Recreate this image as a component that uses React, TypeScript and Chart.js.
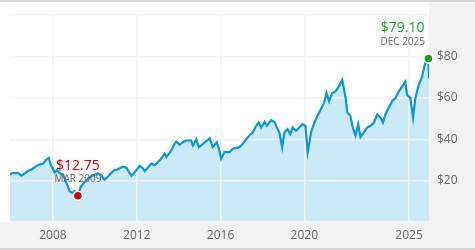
import React, { useEffect, useRef } from 'react';
import { Chart, registerables } from 'chart.js';

// Decimal years of each observation
const years = [
  2005.95, 2006.14, 2006.33, 2006.49, 2006.62, 2006.81, 2007.0, 2007.14, 2007.29, 2007.52,
  2007.67, 2007.8, 2007.9, 2008.08, 2008.19, 2008.32, 2008.48, 2008.62, 2008.8, 2008.95,
  2009.03, 2009.19, 2009.33, 2009.48, 2009.67, 2009.81, 2009.99, 2010.14, 2010.29, 2010.46,
  2010.62, 2010.76, 2010.94, 2011.03, 2011.19, 2011.33, 2011.51, 2011.67, 2011.75, 2011.9,
  2012.14, 2012.3, 2012.38, 2012.7, 2012.86, 2013.1, 2013.33, 2013.41, 2013.65, 2013.81,
  2013.89, 2014.05, 2014.2, 2014.37, 2014.6, 2014.68, 2014.84, 2014.97, 2015.16, 2015.48,
  2015.63, 2015.82, 2015.92, 2016.03, 2016.19, 2016.43, 2016.59, 2016.9, 2017.06, 2017.3,
  2017.54, 2017.7, 2017.82, 2017.94, 2018.1, 2018.21, 2018.41, 2018.57, 2018.73, 2018.81,
  2018.94, 2019.05, 2019.2, 2019.32, 2019.44, 2019.6, 2019.76, 2019.92, 2020.05, 2020.16,
  2020.32, 2020.48, 2020.63, 2020.78, 2020.94, 2021.06, 2021.18, 2021.33, 2021.49, 2021.65,
  2021.81, 2021.97, 2022.05, 2022.2, 2022.29, 2022.44, 2022.57, 2022.68, 2022.84, 2023.0,
  2023.16, 2023.32, 2023.48, 2023.63, 2023.75, 2023.87, 2024.03, 2024.19, 2024.35, 2024.51,
  2024.67, 2024.82, 2024.9, 2025.06, 2025.19, 2025.3, 2025.46, 2025.62, 2025.78, 2025.92,
  2025.95,
];

// Price in dollars at each observation
const prices = [
  23.3, 23.6, 23.8, 22.4, 23.2, 24.8, 25.5, 26.5, 27.6, 28.2,
  30.0, 31.0, 27.6, 24.0, 25.0, 23.5, 23.0, 19.5, 14.8, 14.0,
  15.0, 12.75, 17.0, 19.0, 21.0, 22.0, 22.8, 23.5, 22.8, 20.5,
  21.9, 23.5, 25.2, 25.2, 26.0, 26.7, 26.2, 23.5, 22.4, 24.0,
  27.2, 25.9, 24.6, 28.2, 27.5, 29.8, 33.0, 31.4, 34.6, 37.8,
  38.9, 37.3, 38.6, 39.4, 39.4, 37.0, 39.9, 36.2, 37.8, 40.5,
  36.2, 38.6, 35.4, 30.6, 33.8, 33.8, 35.4, 36.2, 37.8, 41.0,
  43.3, 46.5, 48.1, 45.7, 48.4, 46.5, 49.2, 48.4, 44.9, 43.3,
  36.2, 43.3, 44.9, 42.5, 45.7, 44.1, 45.7, 47.3, 46.5, 33.8,
  43.3, 48.1, 51.5, 54.4, 57.6, 62.4, 58.4, 62.4, 63.2, 65.6,
  68.7, 60.0, 52.9, 51.3, 46.5, 41.8, 47.3, 41.0, 43.3, 45.7,
  46.5, 48.1, 52.0, 50.5, 48.1, 52.0, 55.2, 58.4, 60.0, 63.2,
  65.6, 67.9, 61.6, 60.0, 50.5, 60.0, 66.3, 70.3, 77.5, 79.1,
  69.5,
];

const xTickYears = [2008, 2012, 2016, 2020, 2025];
const yTickValues = [20, 40, 60, 80];
const monthNames = ['JAN', 'FEB', 'MAR', 'APR', 'MAY', 'JUN', 'JUL', 'AUG', 'SEP', 'OCT', 'NOV', 'DEC'];

const FONT = '"Open Sans", "Noto Sans", sans-serif';

const panelPlugin = {
  id: 'panelBackground',
  beforeDraw(chart: any) {
    const { ctx, width, height, chartArea: a } = chart;
    if (!a) return;
    ctx.save();
    ctx.fillStyle = '#f2f2f2';
    ctx.fillRect(0, 0, width, height);
    ctx.fillStyle = '#ffffff';
    ctx.fillRect(0, 0, a.right, a.bottom);
    ctx.fillStyle = '#d6d6d6';
    ctx.fillRect(0, 0, width, 2);
    ctx.fillRect(0, height - 2, width, 2);
    ctx.restore();
  },
};

Chart.register(panelPlugin);
Chart.register(...registerables);

function dateLabel(y: number) {
  const yr = Math.floor(y);
  const m = Math.min(11, Math.floor((y - yr) * 12 + 1e-6));
  return monthNames[m] + ' ' + yr;
}

const extremesPlugin = {
  id: 'extremes',
  afterDraw(chart: any) {
    const meta = chart.getDatasetMeta(0);
    const a = chart.chartArea;
    let iMin = 0;
    let iMax = 0;
    prices.forEach((p, i) => {
      if (p < prices[iMin]) iMin = i;
      if (p > prices[iMax]) iMax = i;
    });
    const ctx = chart.ctx;
    const draw = (i: number, color: string) => {
      const pt = meta.data[i];
      ctx.save();
      ctx.beginPath();
      ctx.arc(pt.x, pt.y, 4.5, 0, Math.PI * 2);
      ctx.fillStyle = color;
      ctx.fill();
      ctx.lineWidth = 1.5;
      ctx.strokeStyle = '#ffffff';
      ctx.stroke();
      const valTxt = '$' + prices[i].toFixed(2);
      const dateTxt = dateLabel(years[i]);
      ctx.font = '14px ' + FONT;
      const w1 = ctx.measureText(valTxt).width;
      ctx.font = '10px ' + FONT;
      const w2 = ctx.measureText(dateTxt).width;
      const w = Math.max(w1, w2);
      let cx = pt.x;
      cx = Math.min(cx, a.right - 4 - w / 2);
      cx = Math.max(cx, a.left + 4 + w / 2);
      ctx.textAlign = 'center';
      ctx.textBaseline = 'middle';
      ctx.font = '14px ' + FONT;
      ctx.fillStyle = color;
      ctx.fillText(valTxt, cx, pt.y - 30);
      ctx.font = '10px ' + FONT;
      ctx.fillStyle = '#666666';
      ctx.fillText(dateTxt, cx, pt.y - 16);
      ctx.restore();
    };
    draw(iMin, '#cc0000');
    draw(iMax, '#1f9d1f');
  },
};

export default function App() {
  const ref = useRef<HTMLCanvasElement>(null);
  useEffect(() => {
    document.body.style.margin = '0';
    const chart = new Chart(ref.current as HTMLCanvasElement, {
      type: 'line',
      data: {
        datasets: [
          {
            data: years.map((x, i) => ({ x, y: prices[i] })),
            borderColor: '#0b97d6',
            borderWidth: 2.2,
            backgroundColor: '#cce9f7',
            fill: 'origin',
            pointRadius: 0,
            tension: 0,
          },
        ],
      },
      options: {
        animation: false,
        responsive: true,
        maintainAspectRatio: false,
        layout: { padding: { top: 10, left: 10, right: 0, bottom: 0 } },
        plugins: {
          legend: { display: false },
          tooltip: { enabled: false },
          filler: { drawTime: 'beforeDraw' },
        } as any,
        scales: {
          x: {
            type: 'linear',
            min: 2005.95,
            max: 2025.95,
            afterBuildTicks: (s: any) => {
              s.ticks = xTickYears.map((v) => ({ value: v }));
            },
            afterFit: (s: any) => {
              s.height = 28;
            },
            ticks: {
              callback: (v: any) => String(v),
              color: '#666666',
              font: { family: FONT, size: 12 },
              padding: 6,
              maxRotation: 0,
              autoSkip: false,
            },
            grid: { color: '#f2f2f2', lineWidth: 1.5, drawTicks: false },
            border: { display: false },
          },
          y: {
            position: 'right',
            min: 0,
            max: 100,
            afterBuildTicks: (s: any) => {
              s.ticks = [0, ...yTickValues, 100].map((v) => ({ value: v }));
            },
            afterFit: (s: any) => {
              s.width = 46;
            },
            ticks: {
              callback: (v: any) => (yTickValues.includes(v) ? '$' + v : ''),
              color: '#666666',
              font: { family: FONT, size: 12 },
              padding: 8,
            },
            grid: { color: '#f2f2f2', lineWidth: 1.5, drawTicks: false },
            border: { display: false },
          },
        },
      },
      plugins: [extremesPlugin],
    });
    return () => chart.destroy();
  }, []);
  return (
    <div style={{ position: 'relative', width: 475, height: 250 }}>
      <canvas ref={ref} />
    </div>
  );
}
